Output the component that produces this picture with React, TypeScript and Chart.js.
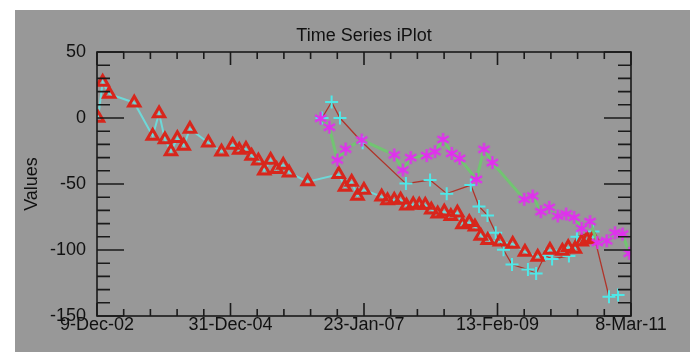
import React, { useEffect, useRef } from "react";
import { Chart, registerables } from "chart.js";

Chart.register(...registerables);

// X values are days since 9-Dec-2002
const X_TICK_VALUES = [0, 752.75, 1505.5, 2258.25, 3011];
const X_TICK_LABELS = ["9-Dec-02", "31-Dec-04", "23-Jan-07", "13-Feb-09", "8-Mar-11"];
const Y_TICK_VALUES = [50, 0, -50, -100, -150];

const TRI_DAYS = [6, 32, 69, 210, 314, 350, 383, 417, 453, 489, 524, 628, 702, 765, 802, 840, 872, 910, 943, 979, 1013, 1050, 1083, 1188, 1363, 1398, 1436, 1469, 1505, 1605, 1638, 1676, 1712, 1745, 1783, 1817, 1851, 1885, 1921, 1958, 1995, 2032, 2061, 2099, 2131, 2164, 2203, 2272, 2344, 2413, 2485, 2554, 2624, 2657, 2695, 2733, 2763, 2797];
const TRI_VALUES = [0, 27.3, 18.2, 11.6, -13.6, 3.5, -16.2, -25.3, -15.4, -21.2, -8.3, -18.7, -25.5, -20.5, -24.2, -23.5, -28.8, -32.3, -39.9, -31.8, -38.9, -35.6, -41.4, -48.2, -42.7, -52.3, -48.5, -59, -54.5, -59.6, -62.5, -62.1, -62, -66.5, -65.5, -66, -66, -69.5, -72.5, -71, -74.5, -71.7, -80.7, -79, -82.3, -89.3, -92.6, -93.7, -95.5, -101.5, -105.3, -100, -100.7, -98, -99.2, -93.7, -92, -91];

const PLUS_DAYS = [1269, 1323, 1370, 1498, 1742, 1878, 1972, 2108, 2154, 2202, 2248, 2292, 2340, 2430, 2476, 2526, 2566, 2661, 2706, 2797, 2887, 2938];
const PLUS_VALUES = [0, 12.1, 0, -18.7, -49.7, -47, -57.3, -50.8, -67, -73.8, -86.9, -99.8, -111, -114.8, -117.8, -104, -106.8, -104.5, -90, -86, -135.4, -134.1];

const STAR_DAYS = [1261, 1310, 1355, 1402, 1493, 1676, 1725, 1769, 1859, 1906, 1951, 2000, 2045, 2139, 2182, 2229, 2409, 2457, 2503, 2550, 2598, 2645, 2690, 2733, 2780, 2821, 2874, 2921, 2964, 3001];
const STAR_VALUES = [-0.2, -7, -31.8, -23.5, -16.7, -28, -39.4, -30, -28.5, -25.5, -16.2, -26.8, -30.6, -46.5, -23.7, -33.8, -61.6, -59.1, -71, -67.7, -74.2, -72.7, -75.3, -83.6, -78.5, -94.4, -93, -86.9, -87.9, -102.5];

const BG = "#989898";
const AXIS = "#1a1a1a";
const TEXT = "#111111";
const FONT = "'Liberation Sans', Arial, Helvetica, sans-serif";
const FS = 18;

function makeAsterisk(color: string) {
  const size = 15;
  const c = document.createElement("canvas");
  c.width = size;
  c.height = size;
  const g = c.getContext("2d")!;
  g.strokeStyle = color;
  g.lineWidth = 2.2;
  const r = 6.5;
  const cx = size / 2;
  const cy = size / 2;
  g.beginPath();
  for (const a of [90, 30, 150]) {
    const rad = (a * Math.PI) / 180;
    g.moveTo(cx - r * Math.cos(rad), cy - r * Math.sin(rad));
    g.lineTo(cx + r * Math.cos(rad), cy + r * Math.sin(rad));
  }
  g.stroke();
  return c;
}

const idlFrame = {
  id: "idlFrame",
  beforeDraw(chart: any) {
    const { ctx, width, height } = chart;
    ctx.save();
    ctx.fillStyle = BG;
    ctx.fillRect(0, 0, width, height);
    ctx.restore();
  },
  afterDraw(chart: any) {
    const { ctx, chartArea: a, scales } = chart;
    const x = scales.x;
    const y = scales.y;
    ctx.save();
    ctx.strokeStyle = AXIS;
    ctx.lineWidth = 1.6;
    ctx.strokeRect(a.left, a.top, a.right - a.left, a.bottom - a.top);
    ctx.beginPath();
    for (let i = 0; i < X_TICK_VALUES.length; i++) {
      const v = X_TICK_VALUES[i];
      const px = x.getPixelForValue(v);
      ctx.moveTo(px, a.bottom);
      ctx.lineTo(px, a.bottom - 13);
      ctx.moveTo(px, a.top);
      ctx.lineTo(px, a.top + 13);
      if (i < X_TICK_VALUES.length - 1) {
        const step = (X_TICK_VALUES[i + 1] - v) / 5;
        for (let k = 1; k < 5; k++) {
          const mx = x.getPixelForValue(v + k * step);
          ctx.moveTo(mx, a.bottom);
          ctx.lineTo(mx, a.bottom - 7);
          ctx.moveTo(mx, a.top);
          ctx.lineTo(mx, a.top + 7);
        }
      }
    }
    for (let i = 0; i < Y_TICK_VALUES.length; i++) {
      const v = Y_TICK_VALUES[i];
      const py = y.getPixelForValue(v);
      ctx.moveTo(a.left, py);
      ctx.lineTo(a.left + 27, py);
      ctx.moveTo(a.right, py);
      ctx.lineTo(a.right - 27, py);
      if (i < Y_TICK_VALUES.length - 1) {
        const step = (Y_TICK_VALUES[i + 1] - v) / 5;
        for (let k = 1; k < 5; k++) {
          const my = y.getPixelForValue(v + k * step);
          ctx.moveTo(a.left, my);
          ctx.lineTo(a.left + 13, my);
          ctx.moveTo(a.right, my);
          ctx.lineTo(a.right - 13, my);
        }
      }
    }
    ctx.stroke();
    ctx.restore();
  },
};

function pts(xs: number[], ys: number[]) {
  return xs.map((d, i) => ({ x: d, y: ys[i] }));
}

export default function App() {
  const ref = useRef<HTMLCanvasElement>(null);
  useEffect(() => {
    document.body.style.margin = "0";
    document.body.style.overflow = "hidden";
    Chart.defaults.font.family = FONT;
    const star = makeAsterisk("#e22ef0");
    const chart = new Chart(ref.current!, {
      type: "line",
      data: {
        datasets: [
          {
            data: pts(STAR_DAYS, STAR_VALUES),
            borderColor: "#72c472",
            borderWidth: 3,
            pointStyle: star as any,
            pointRadius: 6,
            tension: 0,
            order: 0,
          },
          {
            data: pts(TRI_DAYS, TRI_VALUES),
            borderColor: "#6ed8d8",
            borderWidth: 2,
            pointStyle: "triangle",
            pointRadius: 6.5,
            pointBorderWidth: 3,
            pointBorderColor: "#d8261c",
            pointBackgroundColor: "rgba(0,0,0,0)",
            tension: 0,
            order: 1,
          },
          {
            data: pts(PLUS_DAYS, PLUS_VALUES),
            borderColor: "#b0342a",
            borderWidth: 1.3,
            pointStyle: "cross",
            pointRadius: 6.5,
            pointBorderWidth: 2,
            pointBorderColor: "#4fe8e8",
            tension: 0,
            order: 2,
          },
        ],
      },
      plugins: [idlFrame],
      options: {
        animation: false,
        responsive: false,
        events: [],
        layout: { padding: { left: 0, top: 0, right: 59, bottom: 0 } },
        plugins: {
          legend: { display: false },
          tooltip: { enabled: false },
          title: {
            display: true,
            text: "Time Series iPlot",
            fullSize: false,
            color: TEXT,
            font: { size: FS, weight: "normal", family: FONT },
            padding: { top: 15, bottom: 5.4 },
          },
        },
        scales: {
          x: {
            type: "linear",
            min: 0,
            max: 3011,
            grid: { display: false },
            border: { display: false },
            afterBuildTicks: (s: any) => {
              s.ticks = X_TICK_VALUES.map((v) => ({ value: v }));
            },
            afterFit: (s: any) => {
              s.height = 36;
            },
            ticks: {
              color: TEXT,
              font: { size: FS, family: FONT },
              padding: -10,
              maxRotation: 0,
              autoSkip: false,
              callback: (_v: any, i: number) => X_TICK_LABELS[i],
            },
          },
          y: {
            type: "linear",
            min: -150,
            max: 50,
            grid: { display: false },
            border: { display: false },
            afterBuildTicks: (s: any) => {
              s.ticks = Y_TICK_VALUES.map((v) => ({ value: v }));
            },
            afterFit: (s: any) => {
              s.width = 82;
            },
            title: {
              display: true,
              text: "Values",
              color: TEXT,
              font: { size: FS, family: FONT },
              padding: { top: 6, bottom: 0 },
            },
            ticks: {
              color: TEXT,
              font: { size: FS, family: FONT },
              padding: 3,
              autoSkip: false,
              callback: (v: any) => String(v),
            },
          },
        },
      },
    } as any);
    return () => chart.destroy();
  }, []);
  return (
    <div>
      <canvas
        ref={ref}
        width={675}
        height={342}
        style={{ position: "fixed", left: 15, top: 10, width: 675, height: 342 }}
      />
    </div>
  );
}
